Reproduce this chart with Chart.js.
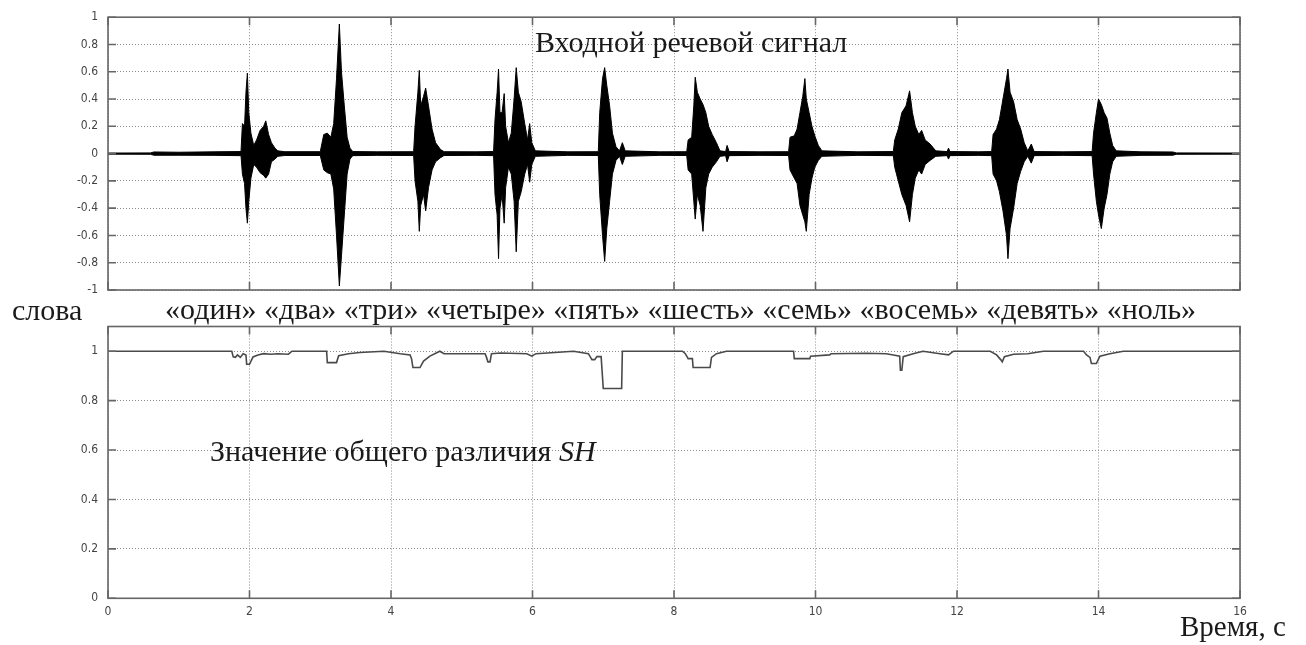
<!DOCTYPE html>
<html>
<head>
<meta charset="utf-8">
<script src="https://cdn.jsdelivr.net/npm/chart.js@4.4.1/dist/chart.umd.min.js"></script>
<style>
  html,body{margin:0;padding:0;background:#fff;}
  body{width:1306px;height:645px;position:relative;overflow:hidden;}
  canvas{position:absolute;left:0;top:0;}
  .t{position:absolute;white-space:nowrap;line-height:1;font-family:"Liberation Serif","Times New Roman",serif;color:#1a1a1a;}
</style>
</head>
<body>
<canvas id="top" width="1306" height="645"></canvas>
<canvas id="bot" width="1306" height="645"></canvas>
<div class="t" id="t1" style="left:535px;top:27px;font-size:30px;">Входной речевой сигнал</div>
<div class="t" id="t2" style="left:12px;top:295px;font-size:30px;">слова</div>
<div class="t" id="t3" style="left:165px;top:294px;font-size:30px;">«один» «два» «три» «четыре» «пять» «шесть» «семь» «восемь» «девять» «ноль»</div>
<div class="t" id="t4" style="left:210px;top:436px;font-size:30px;">Значение общего различия <i>SH</i></div>
<div class="t" id="t5" style="left:1180px;top:612px;font-size:29px;">Время, с</div>
<script>
// ---- Input speech signal: envelope ----
const sigT  = [0.00,0.60,0.65,1.00,1.50,1.88,
  1.90,1.93,1.95,1.97,1.99,2.02,2.06,2.10,2.15,2.20,2.23,2.27,2.31,2.36,2.40,
  2.50,3.00,
  3.05,3.10,3.15,3.19,3.23,3.27,3.30,3.34,3.38,3.42,3.46,
  3.80,4.32,
  4.34,4.38,4.40,4.42,4.46,4.49,4.53,4.58,4.63,4.70,4.75,
  5.20,5.45,
  5.47,5.50,5.52,5.54,5.57,5.60,5.62,5.66,5.70,5.74,5.77,5.80,5.84,5.89,5.93,5.96,5.99,6.04,
  6.50,6.93,
  6.95,6.99,7.02,7.05,7.09,7.13,7.18,7.23,7.27,7.31,
  7.80,8.18,
  8.20,8.25,8.28,8.30,8.33,8.37,8.41,8.45,8.49,8.54,8.60,8.65,8.73,8.75,8.78,
  9.20,9.62,
  9.64,9.70,9.74,9.78,9.82,9.85,9.87,9.91,9.95,9.99,10.04,10.09,
  10.60,11.10,
  11.12,11.17,11.22,11.28,11.33,11.37,11.41,11.46,11.50,11.55,11.62,11.70,11.86,11.88,11.90,
  12.30,12.49,
  12.51,12.56,12.60,12.65,12.70,12.72,12.75,12.80,12.85,12.90,12.95,13.00,13.05,13.09,
  13.50,13.91,
  13.93,13.97,14.00,14.04,14.08,14.12,14.16,14.20,14.25,
  14.60,15.05,15.10,16.00];
const sigHi = [0.004,0.005,0.012,0.010,0.013,0.015,
  0.22,0.20,0.45,0.59,0.30,0.15,0.06,0.10,0.17,0.20,0.24,0.14,0.08,0.04,0.02,
  0.014,0.014,
  0.14,0.15,0.12,0.22,0.55,0.95,0.60,0.35,0.12,0.04,0.015,
  0.013,0.014,
  0.20,0.45,0.61,0.35,0.42,0.48,0.35,0.18,0.08,0.03,0.014,
  0.013,0.015,
  0.25,0.45,0.62,0.30,0.30,0.44,0.20,0.08,0.15,0.40,0.63,0.45,0.38,0.22,0.10,0.22,0.08,0.02,
  0.013,0.014,
  0.30,0.55,0.63,0.50,0.35,0.15,0.05,0.02,0.08,0.02,
  0.013,0.014,
  0.10,0.12,0.35,0.56,0.45,0.40,0.36,0.30,0.20,0.14,0.08,0.02,0.015,0.06,0.015,
  0.013,0.014,
  0.12,0.13,0.18,0.30,0.42,0.55,0.40,0.30,0.20,0.13,0.06,0.02,
  0.013,0.015,
  0.10,0.18,0.30,0.35,0.46,0.30,0.20,0.14,0.17,0.10,0.07,0.02,0.015,0.04,0.015,
  0.013,0.015,
  0.14,0.18,0.25,0.40,0.55,0.62,0.45,0.38,0.25,0.18,0.08,0.02,0.07,0.015,
  0.013,0.015,
  0.15,0.30,0.40,0.36,0.30,0.26,0.15,0.06,0.02,
  0.013,0.012,0.005,0.004];
const sigLo = [-0.004,-0.005,-0.012,-0.012,-0.013,-0.015,
  -0.15,-0.22,-0.40,-0.51,-0.35,-0.18,-0.08,-0.10,-0.14,-0.16,-0.18,-0.15,-0.06,-0.04,-0.02,
  -0.014,-0.014,
  -0.12,-0.14,-0.15,-0.26,-0.60,-0.97,-0.75,-0.45,-0.15,-0.04,-0.015,
  -0.013,-0.014,
  -0.20,-0.35,-0.57,-0.38,-0.30,-0.42,-0.25,-0.12,-0.06,-0.03,-0.014,
  -0.013,-0.015,
  -0.30,-0.45,-0.77,-0.40,-0.30,-0.51,-0.25,-0.10,-0.15,-0.35,-0.72,-0.35,-0.28,-0.15,-0.08,-0.21,-0.08,-0.02,
  -0.013,-0.014,
  -0.30,-0.60,-0.79,-0.55,-0.35,-0.15,-0.05,-0.02,-0.08,-0.02,
  -0.013,-0.014,
  -0.12,-0.15,-0.35,-0.48,-0.30,-0.38,-0.57,-0.25,-0.15,-0.10,-0.06,-0.02,-0.015,-0.06,-0.015,
  -0.013,-0.014,
  -0.12,-0.18,-0.22,-0.38,-0.45,-0.50,-0.57,-0.30,-0.18,-0.10,-0.05,-0.02,
  -0.013,-0.015,
  -0.10,-0.20,-0.30,-0.38,-0.50,-0.30,-0.18,-0.12,-0.15,-0.08,-0.05,-0.02,-0.015,-0.04,-0.015,
  -0.013,-0.015,
  -0.15,-0.20,-0.28,-0.42,-0.60,-0.77,-0.55,-0.40,-0.22,-0.13,-0.06,-0.02,-0.07,-0.015,
  -0.013,-0.015,
  -0.15,-0.35,-0.45,-0.55,-0.40,-0.30,-0.15,-0.06,-0.02,
  -0.013,-0.012,-0.005,-0.004];

// ---- Overall difference SH ----
const shT = [0,1.75,1.77,1.80,1.83,1.87,1.91,1.95,1.96,2.00,2.03,2.05,2.12,2.20,2.30,2.40,2.55,2.60,
  3.09,3.10,3.23,3.26,3.40,3.56,3.90,4.13,4.27,4.29,4.31,4.41,4.46,4.55,4.69,4.75,4.88,
  5.33,5.35,5.37,5.40,5.42,5.55,5.92,5.99,6.05,6.58,6.79,6.84,6.88,6.91,6.97,7.00,7.26,7.27,
  8.12,8.16,8.20,8.26,8.27,8.51,8.53,8.60,8.74,9.69,9.70,9.92,9.93,10.20,10.22,10.72,
  11.00,11.10,11.19,11.20,11.22,11.24,11.38,11.52,11.76,11.88,11.95,12.47,12.56,12.62,12.64,12.67,12.80,
  13.00,13.22,13.79,13.83,13.88,13.90,13.97,14.02,14.16,14.35,16.00];
const shV = [1.0,1.0,0.977,0.975,0.985,0.975,0.99,0.985,0.947,0.947,0.965,0.977,0.985,0.99,0.988,0.99,0.988,1.0,
  1.0,0.954,0.954,0.982,0.99,0.995,1.0,0.99,0.985,0.97,0.934,0.934,0.96,0.98,1.0,0.99,0.99,
  0.99,0.975,0.957,0.957,0.99,0.993,0.99,0.98,0.99,1.0,0.99,0.966,0.966,0.978,0.978,0.849,0.849,1.0,
  1.0,0.99,0.97,0.97,0.934,0.934,0.975,0.99,1.0,1.0,0.97,0.97,0.98,0.985,0.99,0.992,
  0.99,0.985,0.98,0.923,0.923,0.978,0.99,1.0,0.99,0.985,1.0,1.0,0.985,0.965,0.957,0.978,0.988,
  0.99,1.0,1.0,0.985,0.975,0.950,0.950,0.98,0.99,1.0,1.0];

// ---- Axis tick settings ----
const xTicks = [0,2,4,6,8,10,12,14,16];
const topYTicks = [-1,-0.8,-0.6,-0.4,-0.2,0,0.2,0.4,0.6,0.8,1];
const botYTicks = [0,0.2,0.4,0.6,0.8,1];

const tickFont = {family:'"Liberation Sans Narrow","Arial Narrow","DejaVu Sans Condensed",sans-serif', size:12};
const fmt = v => String(Math.round(v*10)/10);

const boxTicks = {
  id:'boxTicks',
  afterDatasetsDraw(chart){
    const {ctx, chartArea:{left,right,top,bottom}, scales:{x,y}} = chart;
    ctx.save();
    ctx.strokeStyle='#666'; ctx.lineWidth=1.6;
    const L=8;
    ctx.beginPath();
    x.ticks.forEach(t=>{const p=x.getPixelForValue(t.value);
      ctx.moveTo(p,bottom);ctx.lineTo(p,bottom-L);ctx.moveTo(p,top);ctx.lineTo(p,top+L);});
    y.ticks.forEach(t=>{const p=y.getPixelForValue(t.value);
      ctx.moveTo(left,p);ctx.lineTo(left+L,p);ctx.moveTo(right,p);ctx.lineTo(right-L,p);});
    ctx.stroke();
    ctx.strokeRect(left,top,right-left,bottom-top);
    ctx.restore();
  }
};

function gridOpts(){ return {color:'#8c8c8c', lineWidth:1, drawTicks:false}; }
function setTicks(list){ return function(s){ s.ticks = list.map(v=>({value:v})); }; }

// Top chart: speech waveform envelope
new Chart(document.getElementById('top'), {
  type:'line',
  data:{datasets:[
    {data: sigT.map((t,i)=>({x:t,y:sigHi[i]})), borderColor:'#000', backgroundColor:'#000', borderWidth:1, pointRadius:0, tension:0, fill:false},
    {data: sigT.map((t,i)=>({x:t,y:sigLo[i]})), borderColor:'#000', backgroundColor:'#000', borderWidth:1, pointRadius:0, tension:0, fill:'-1'}
  ]},
  options:{
    animation:false, responsive:false, events:[],
    layout:{padding:{left:0,right:66,top:16,bottom:355}},
    plugins:{legend:{display:false}, tooltip:{enabled:false}},
    scales:{
      x:{type:'linear', min:0, max:16, afterBuildTicks:setTicks(xTicks), afterFit:s=>{s.height=0;},
         grid:gridOpts(), border:{display:false, dash:[1,2]}, ticks:{display:false}},
      y:{type:'linear', min:-1, max:1, afterBuildTicks:setTicks(topYTicks), afterFit:s=>{s.width=108;},
         grid:gridOpts(), border:{display:false, dash:[1,2]},
         ticks:{font:tickFont, color:'#444', padding:10, callback:fmt}}
    }
  },
  plugins:[boxTicks]
});

// Bottom chart: SH value
new Chart(document.getElementById('bot'), {
  type:'line',
  data:{datasets:[
    {data: shT.map((t,i)=>({x:t,y:shV[i]})), borderColor:'#4a4a4a', borderWidth:1.6, pointRadius:0, tension:0, fill:false}
  ]},
  options:{
    animation:false, responsive:false, events:[],
    layout:{padding:{left:0,right:66,top:326.5,bottom:22}},
    plugins:{legend:{display:false}, tooltip:{enabled:false}},
    scales:{
      x:{type:'linear', min:0, max:16, afterBuildTicks:setTicks(xTicks), afterFit:s=>{s.height=24.7;},
         grid:gridOpts(), border:{display:false, dash:[1,2]},
         ticks:{font:tickFont, color:'#444', padding:6, maxRotation:0, callback:fmt}},
      y:{type:'linear', min:0, max:1.1, afterBuildTicks:setTicks(botYTicks), afterFit:s=>{s.width=108;},
         grid:gridOpts(), border:{display:false, dash:[1,2]},
         ticks:{font:tickFont, color:'#444', padding:10, callback:fmt}}
    }
  },
  plugins:[boxTicks]
});
</script>
</body>
</html>
